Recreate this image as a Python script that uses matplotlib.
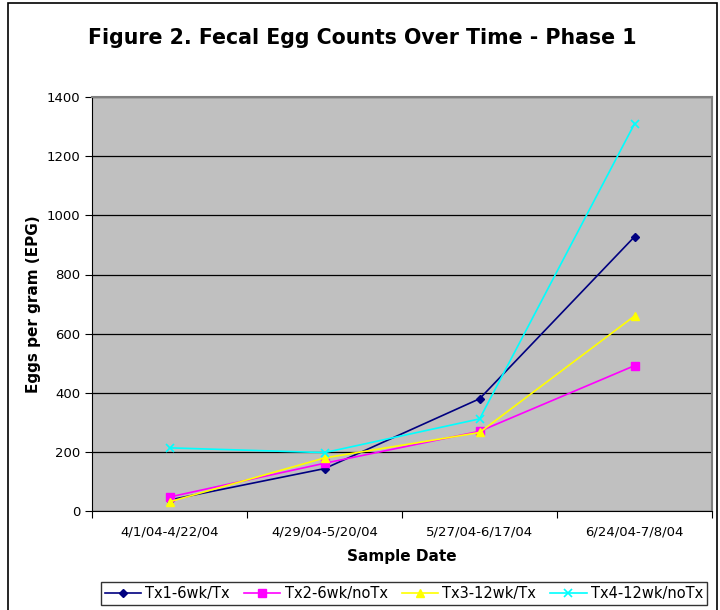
import matplotlib.pyplot as plt
import matplotlib.patches as mpatches
import numpy as np

dates = ["4/1/04-4/22/04", "4/29/04-5/20/04", "5/27/04-6/17/04", "6/24/04-7/8/04"]
tx1 = [38, 144, 380, 928]
tx2 = [48, 162, 270, 492]
tx3 = [32, 180, 266, 660]
tx4 = [214, 198, 312, 1310]
series_names = ["Tx1-6wk/Tx", "Tx2-6wk/noTx", "Tx3-12wk/Tx", "Tx4-12wk/noTx"]

fig = plt.figure(figsize=(7.2, 6.1), dpi=100)
ax = fig.add_axes([0.128, 0.162, 0.861, 0.679])
ax.set_facecolor("#C0C0C0")

x = np.arange(len(dates))
ax.plot(x, tx1, color="#000080", marker="D", markersize=4.5, lw=1.2, label=series_names[0], zorder=3)
ax.plot(x, tx2, color="#FF00FF", marker="s", markersize=5.5, lw=1.2, label=series_names[1], zorder=3)
ax.plot(x, tx3, color="#FFFF00", marker="^", markersize=5.5, lw=1.2, label=series_names[2], zorder=3)
ax.plot(x, tx4, color="#00FFFF", marker="x", markersize=6, mew=1.2, lw=1.2, label=series_names[3], zorder=3)

ax.set_xlim(-0.5, 3.5)
ax.set_ylim(0, 1400)
ax.set_yticks(np.arange(0, 1401, 200))
ax.yaxis.grid(True, color="black", lw=0.9)
ax.set_axisbelow(True)
ax.set_xticks(np.arange(-0.5, 3.6, 1))
ax.set_xticklabels([])
ax.set_xticks(x, minor=True)
ax.set_xticklabels(dates, minor=True)
ax.tick_params(axis="x", which="minor", length=0, pad=10, labelsize=9.5)
ax.tick_params(axis="x", which="major", length=5, direction="out")
ax.tick_params(axis="y", length=5, direction="out", labelsize=9.5)

ax.spines["top"].set_color("#808080")
ax.spines["right"].set_color("#808080")
ax.spines["top"].set_linewidth(1.5)
ax.spines["right"].set_linewidth(1.5)

ax.set_xlabel("Sample Date", fontsize=11, fontweight="bold", labelpad=8)
ax.set_ylabel("Eggs per gram (EPG)", fontsize=11, fontweight="bold", labelpad=4)
fig.text(0.503, 0.938, "Figure 2. Fecal Egg Counts Over Time - Phase 1",
         ha="center", va="center", fontsize=14.8, fontweight="bold")

leg = fig.legend(loc="center", bbox_to_anchor=(0.561, 0.027), ncol=4, fontsize=10.5,
                 frameon=True, fancybox=False, edgecolor="black", handlelength=2.5,
                 columnspacing=0.95, handletextpad=0.3, borderpad=0.25)
leg.get_frame().set_linewidth(1.0)

border = mpatches.Rectangle((0.011, -0.01), 0.985, 1.005, transform=fig.transFigure,
                            fill=False, edgecolor="black", lw=1.2)
fig.patches.append(border)

fig.savefig("out.png", dpi=100)
